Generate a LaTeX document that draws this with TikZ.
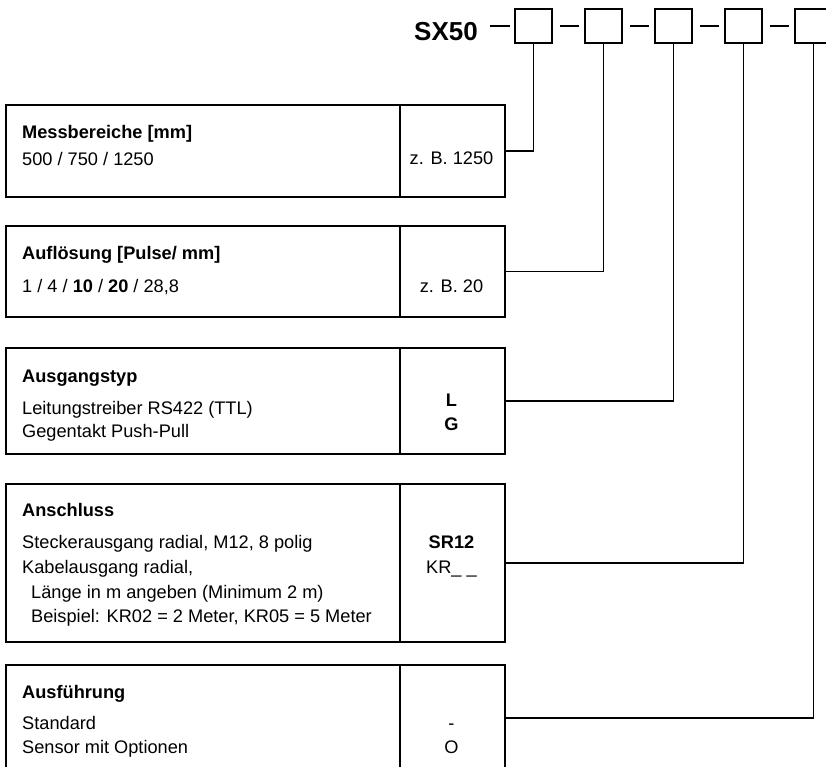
\documentclass[tikz,border=0pt]{standalone}
\usepackage{fontspec}
\setmainfont{Liberation Sans}
\begin{document}
\begin{tikzpicture}[x=1pt,y=-1pt,
  cell/.style={draw, line width=1.6pt, inner sep=0pt, anchor=north west},
  txt/.style={anchor=west, inner sep=0pt, text height=13pt, text depth=0pt, font=\fontsize{18.2}{22}\selectfont},
  head/.style={txt, font=\fontsize{18.2}{22}\selectfont\bfseries},
  code/.style={anchor=center, inner sep=0pt, text height=13pt, text depth=0pt, font=\fontsize{18.2}{22}\selectfont},
  tbox/.style={draw, line width=1.6pt, minimum width=37pt, minimum height=34pt, inner sep=0pt},
  link/.style={line width=1.6pt},
]
\useasboundingbox (0,0) rectangle (826,767);
\clip (0,0) rectangle (826,767);

% header
\node[anchor=east, inner sep=0pt, text height=18.6pt, text depth=0pt,
      font=\fontsize{26}{30}\selectfont\bfseries] (sx) at (478,31) {SX50};
\node[tbox] (t1) at (533.5,26) {};
\node[tbox] (t2) at (603.5,26) {};
\node[tbox] (t3) at (673.5,26) {};
\node[tbox] (t4) at (743.5,26) {};
\node[tbox] (t5) at (813.5,26) {};
\coordinate (d0) at (490,26);
\draw[link] (d0) -- ([xshift=-4pt]t1.west);
\draw[link] ([xshift=7pt]t1.east) -- ([xshift=-5pt]t2.west);
\draw[link] ([xshift=7pt]t2.east) -- ([xshift=-5pt]t3.west);
\draw[link] ([xshift=7pt]t3.east) -- ([xshift=-5pt]t4.west);
\draw[link] ([xshift=7pt]t4.east) -- ([xshift=-5pt]t5.west);

% box 1
\node[cell, minimum width=394pt, minimum height=92pt] (m1) at (5,104) {};
\node[cell, minimum width=105pt, minimum height=92pt] (r1) at (399,104) {};
\node[head] (h1) at (22,132) {Messbereiche [mm]};
\node[txt] (a1) at (22,159) {500 / 750 / 1250};
\node[code] (c1) at (451.5,158) {z. B. 1250};

% box 2
\node[cell, minimum width=394pt, minimum height=91pt] (m2) at (5,225) {};
\node[cell, minimum width=105pt, minimum height=91pt] (r2) at (399,225) {};
\node[head] (h2) at (22,253) {Auflösung [Pulse/ mm]};
\node[txt] (a2) at (22,286) {1 / 4 / \textbf{10} / \textbf{20} / 28,8};
\node[code] (c2) at (451.5,286) {z. B. 20};

% box 3
\node[cell, minimum width=394pt, minimum height=106pt] (m3) at (5,347) {};
\node[cell, minimum width=105pt, minimum height=106pt] (r3) at (399,347) {};
\node[head] (h3) at (22,376) {Ausgangstyp};
\node[txt] (a3) at (22,408) {Leitungstreiber RS422 (TTL)};
\node[txt] (b3) at (22,431) {Gegentakt Push-Pull};
\node[code] (c3) at (451.5,400) {\textbf{L}};
\node[code] (e3) at (451.5,424) {\textbf{G}};

% box 4
\node[cell, minimum width=394pt, minimum height=158pt] (m4) at (5,483) {};
\node[cell, minimum width=105pt, minimum height=158pt] (r4) at (399,483) {};
\node[head] (h4) at (22,510) {Anschluss};
\node[txt] (a4) at (22,542) {Steckerausgang radial, M12, 8 polig};
\node[txt] (b4) at (22,567) {Kabelausgang radial,};
\node[txt] (f4) at (31,592) {Länge in m angeben (Minimum 2 m)};
\node[txt] (g4) at (31,616) {Beispiel: KR02 = 2 Meter, KR05 = 5 Meter};
\node[code] (c4) at (451.5,542) {\textbf{SR12}};
\node[code] (e4) at (451.5,567) {KR\_ \_};

% box 5
\node[cell, minimum width=394pt, minimum height=106pt] (m5) at (5,664) {};
\node[cell, minimum width=105pt, minimum height=106pt] (r5) at (399,664) {};
\node[head] (h5) at (22,692) {Ausführung};
\node[txt] (a5) at (22,723) {Standard};
\node[txt] (b5) at (22,747) {Sensor mit Optionen};
\node[code] (c5) at (451.5,723) {-};
\node[code] (e5) at (451.5,747) {O};

% connectors
\draw[link] (r1.east) -| (t1.south);
\draw[link] (r2.east) -| (t2.south);
\draw[link] (r3.east) -| (t3.south);
\draw[link] (r4.east) -| (t4.south);
\draw[link] (r5.east) -| (t5.south);
\end{tikzpicture}
\end{document}
